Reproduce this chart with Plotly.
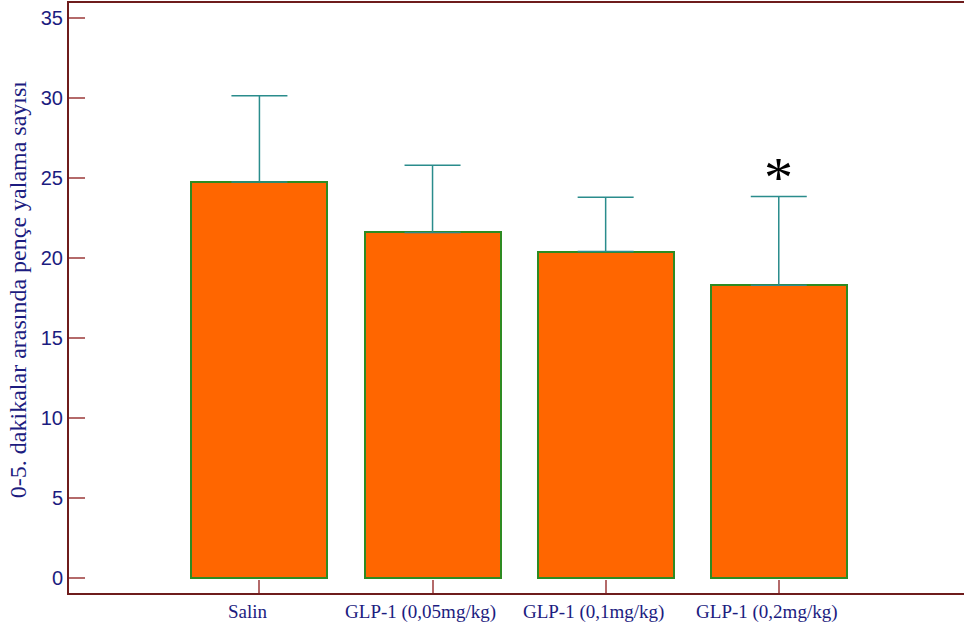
import plotly.graph_objects as go

# Group labels and measured values (mean and upper error)
groups = ["Salin", "GLP-1 (0,05mg/kg)", "GLP-1 (0,1mg/kg)", "GLP-1 (0,2mg/kg)"]
means = [24.75, 21.6, 20.4, 18.3]
errors = [5.4, 4.2, 3.4, 5.55]
y_ticks = [0, 5, 10, 15, 20, 25, 30, 35]
significance = ["", "", "", "*"]

x_pos = list(range(len(groups)))

axis_color = "#6E1C1C"
tick_color = "#B46A6A"
text_color = "#1C1C80"

fig = go.Figure()
fig.add_trace(go.Bar(
    x=x_pos,
    y=means,
    width=0.786,
    marker=dict(color="#FF6600", line=dict(color="#2E8B22", width=2)),
    error_y=dict(
        type="data",
        symmetric=False,
        array=errors,
        arrayminus=[0] * len(errors),
        color="#2A8C8C",
        thickness=1.5,
        width=28,
    ),
    showlegend=False,
))

# significance markers above the error bars
for xi, m, e, s in zip(x_pos, means, errors, significance):
    if s:
        fig.add_annotation(
            x=xi, y=m + e, yshift=-16, text=s, showarrow=False,
            xanchor="center", yanchor="bottom",
            font=dict(family="Liberation Serif", size=58, color="black"),
        )

# y-axis title
fig.add_annotation(
    xref="paper", yref="paper", x=-0.057, y=0.515,
    text="0-5. dakikalar arasında pençe yalama sayısı",
    textangle=-90, showarrow=False, xanchor="center", yanchor="middle",
    font=dict(family="Liberation Serif", size=24, color=text_color),
)

fig.update_layout(
    width=964, height=625,
    margin=dict(l=69, r=0, t=3, b=32),
    paper_bgcolor="white", plot_bgcolor="white",
    bargap=0,
)
fig.update_xaxes(
    range=[-1.1, 4.07],
    tickvals=x_pos, ticktext=groups,
    ticks="inside", ticklen=13, tickwidth=1.5, tickcolor=tick_color,
    ticklabelshift=-12,
    showline=True, linecolor=axis_color, linewidth=2, mirror=True,
    showgrid=False, zeroline=False,
    tickfont=dict(family="Liberation Serif", size=19, color=text_color),
)
fig.update_yaxes(
    range=[-0.94, 35.94],
    tickvals=y_ticks,
    ticks="inside", ticklen=16, tickwidth=1.5, tickcolor=tick_color,
    showline=True, linecolor=axis_color, linewidth=2,
    showgrid=False, zeroline=False,
    tickfont=dict(family="Liberation Sans", size=20, color=text_color),
)

fig.write_html("out.html")
